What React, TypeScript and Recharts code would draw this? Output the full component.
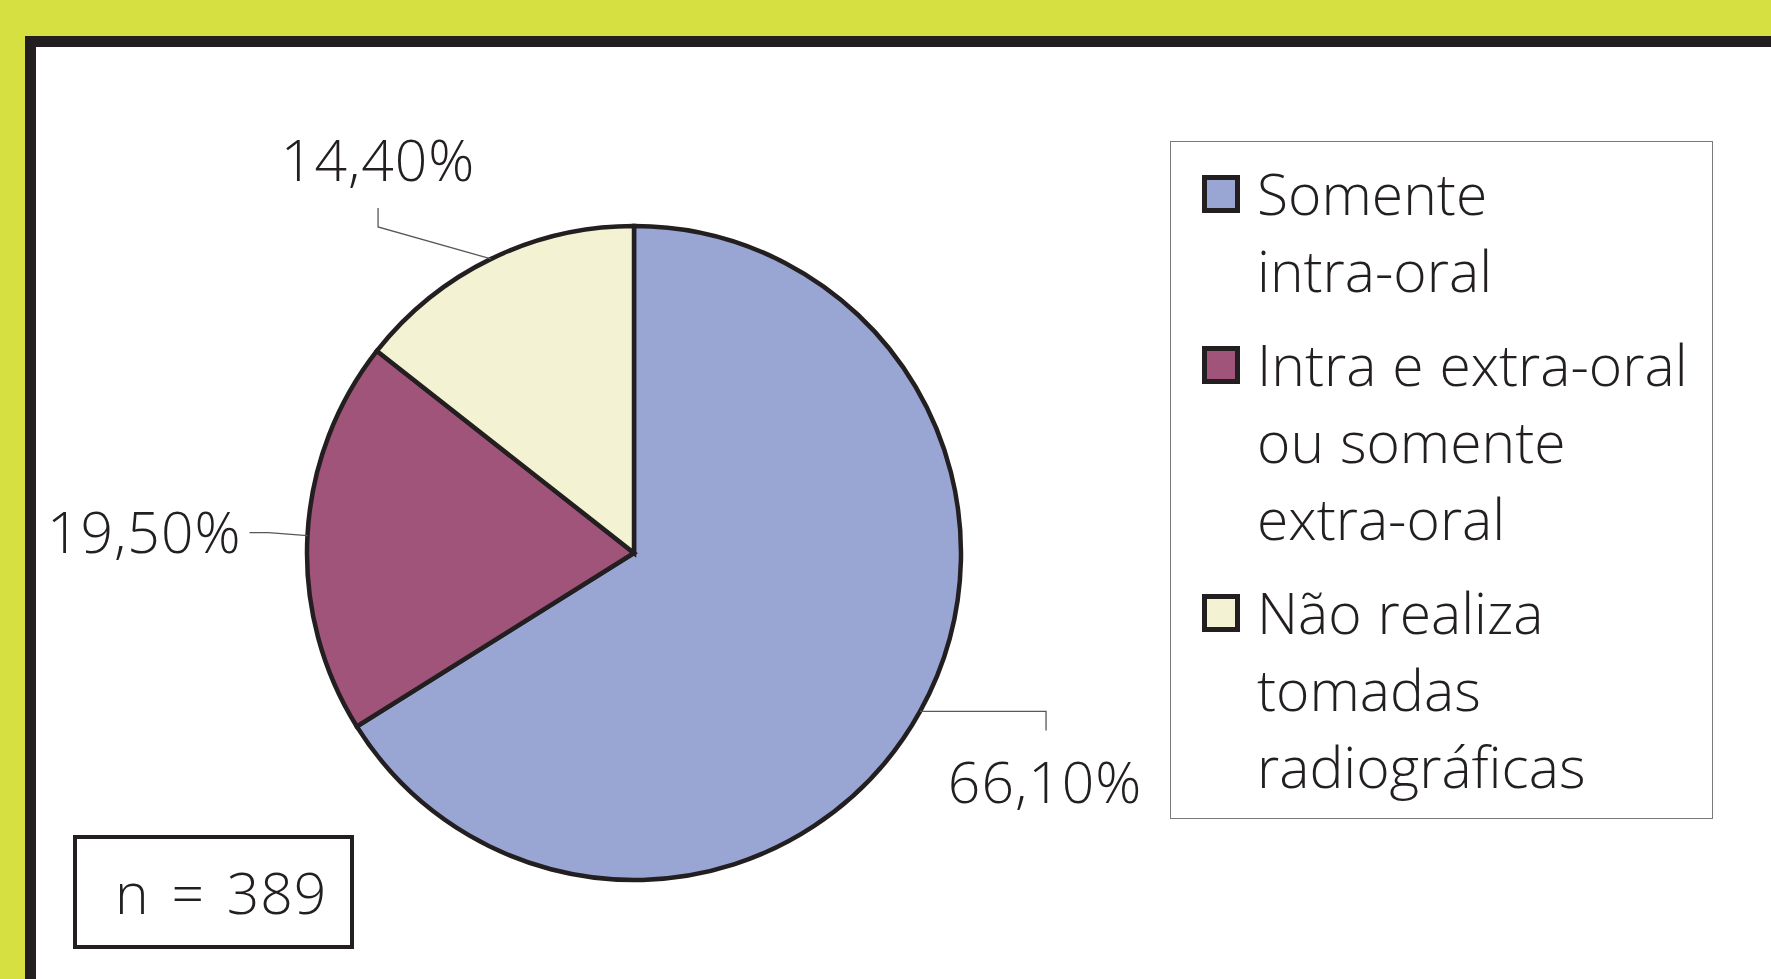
import React from "react";
import { PieChart, Pie, Cell, Legend } from "recharts";

const categories = [
  "Somente\nintra-oral",
  "Intra e extra-oral\nou somente\nextra-oral",
  "Não realiza\ntomadas\nradiográficas",
];
const values = [66.1, 19.5, 14.4];
const valueLabels = ["66,10%", "19,50%", "14,40%"];
const sampleLabel = "n = 389";

const colors = ["#99A5D3", "#A0547A", "#F3F3D3"];
const INK = "#231F20";
const FONT = "'Open Sans', 'Noto Sans', sans-serif";
const WEIGHT = 350;

const data = categories.map((name, i) => ({ name, value: values[i], label: valueLabels[i] }));

// leader-line / label layout relative to the mid-edge point of each slice
const labelLayout = [
  { bend: [126, 0], end: [126, 19], text: [125, 92], anchor: "middle" },
  { bend: [-39, -3], end: [-58, -3], text: [-66, 17], anchor: "end" },
  { bend: [-113, -32], end: [-113, -51], text: [-113, -78], anchor: "middle" },
];

const RAD = Math.PI / 180;

const renderLabel = (props: any) => {
  const { cx, cy, midAngle, outerRadius, index } = props;
  const ex = cx + outerRadius * Math.cos(-midAngle * RAD);
  const ey = cy + outerRadius * Math.sin(-midAngle * RAD);
  const L = labelLayout[index];
  return (
    <g key={`lbl-${index}`}>
      <polyline
        points={`${ex},${ey} ${ex + L.bend[0]},${ey + L.bend[1]} ${ex + L.end[0]},${ey + L.end[1]}`}
        fill="none"
        stroke="#58585A"
        strokeWidth={1.3}
      />
      <text
        x={ex + L.text[0]}
        y={ey + L.text[1]}
        textAnchor={L.anchor as any}
        fontFamily={FONT}
        fontWeight={WEIGHT}
        fontSize={57}
        letterSpacing={1}
        fill={INK}
      >
        {data[index].label}
      </text>
    </g>
  );
};

const renderLegend = () => (
  <div
    style={{
      boxSizing: "border-box",
      width: 543,
      height: 678,
      border: "1.5px solid #7A7A7A",
      background: "#fff",
      paddingTop: 13,
      fontFamily: FONT,
      fontWeight: WEIGHT,
      fontSize: 57,
      color: INK,
    }}
  >
    {data.map((d, i) => (
      <div
        key={i}
        style={{
          position: "relative",
          paddingLeft: 86,
          marginTop: i === 0 ? 0 : 17,
          lineHeight: "77px",
          whiteSpace: "pre-line",
          letterSpacing: 0,
          wordSpacing: 1,
        }}
      >
        <div
          style={{
            position: "absolute",
            left: 31,
            top: 20,
            width: 38,
            height: 38,
            boxSizing: "border-box",
            border: `5px solid ${INK}`,
            background: colors[i],
          }}
        />
        {d.name}
      </div>
    ))}
  </div>
);

export default function App() {
  return (
    <div style={{ position: "absolute", left: 0, top: 0, width: 1771, height: 979, background: "#D7E041", overflow: "hidden" }}>
      <div style={{ position: "absolute", left: 25, top: 36, width: 1771 - 25, height: 979 - 36, background: INK }} />
      <div style={{ position: "absolute", left: 36, top: 47, width: 1771 - 36, height: 979 - 47, background: "#fff" }} />
      <div style={{ position: "absolute", left: 0, top: 0 }}>
        <PieChart width={1771} height={979} margin={{ top: 0, right: 0, bottom: 0, left: 0 }}>
          <Pie
            data={data}
            dataKey="value"
            nameKey="name"
            cx={634}
            cy={553}
            outerRadius={327}
            startAngle={90}
            endAngle={-270}
            stroke={INK}
            strokeWidth={4.5}
            label={renderLabel}
            labelLine={false}
            isAnimationActive={false}
          >
            {data.map((d, i) => (
              <Cell key={i} fill={colors[i]} />
            ))}
          </Pie>
          <Legend
            layout="vertical"
            align="right"
            verticalAlign="top"
            content={renderLegend}
            wrapperStyle={{ left: 1170, top: 141, width: 543, height: 678 }}
          />
        </PieChart>
      </div>
      <div
        style={{
          position: "absolute",
          left: 73,
          top: 835,
          width: 281,
          height: 114,
          boxSizing: "border-box",
          border: `4px solid ${INK}`,
          background: "#fff",
          fontFamily: FONT,
          fontWeight: WEIGHT,
          fontSize: 57,
          color: INK,
          lineHeight: "106px",
          paddingLeft: 38,
          whiteSpace: "pre",
          wordSpacing: 6,
          letterSpacing: 1,
        }}
      >
        {sampleLabel}
      </div>
    </div>
  );
}
